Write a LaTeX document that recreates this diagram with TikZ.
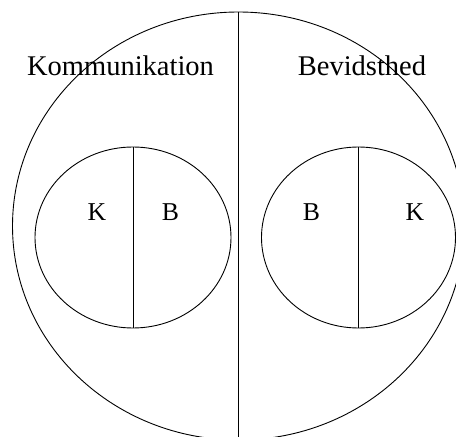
\documentclass[tikz,border=0pt]{standalone}
\usepackage{fontspec}
\setmainfont{Liberation Serif}
\tikzset{
    bigtext/.style={anchor=base, inner sep=0pt, font=\fontsize{28.5}{30}\selectfont},
    letter/.style={anchor=base, inner sep=0pt, font=\fontsize{25.7}{28}\selectfont}
}
\begin{document}
\begin{tikzpicture}[x=1pt, y=1pt, line width=0.9pt]
    \useasboundingbox (0,0) rectangle (456,437);
    \clip (0,0) rectangle (456,437);
    % outer ellipse, split in two
    \coordinate (O) at (238.5,211);
    \draw (O) ellipse [x radius=226, y radius=214];
    \draw (O) ++(0,214) -- ++(0,-428);
    % inner ellipses
    \coordinate (L) at (133,199.5);
    \coordinate (R) at (358.5,199.5);
    \draw (L) ellipse [x radius=98, y radius=90.5];
    \draw (L) ++(0,90.5) -- ++(0,-181);
    \draw (R) ellipse [x radius=97, y radius=90.5];
    \draw (R) ++(0,90.5) -- ++(0,-181);
    % labels
    \node[bigtext] (kom) at (120.5,361) {Kommunikation};
    \node[bigtext] (bev) at (362,361) {Bevidsthed};
    \node[letter] (lk) at (97,216) {K};
    \node[letter] (lb) at (170.5,216) {B};
    \node[letter] (rb) at (311.5,216) {B};
    \node[letter] (rk) at (415,216) {K};
\end{tikzpicture}
\end{document}
